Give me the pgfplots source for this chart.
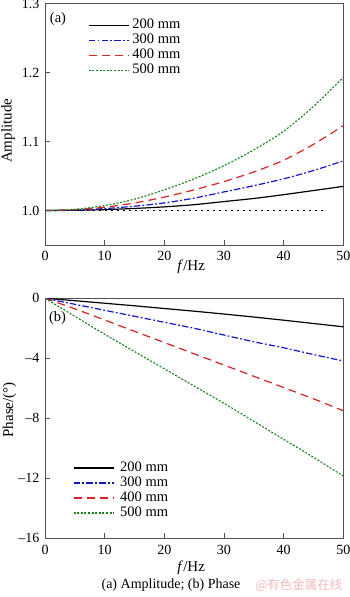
\documentclass[border=0pt]{standalone}
\usepackage{pgfplots}
\pgfplotsset{compat=1.18}
\usepackage{fontspec}
\setmainfont{Liberation Serif}
\newfontfamily\cjk{Noto Sans CJK SC}
\definecolor{myblue}{RGB}{20,20,200}
\definecolor{myred}{RGB}{215,35,35}
\definecolor{mygreen}{RGB}{25,130,25}
\definecolor{wm}{RGB}{245,185,190}
\definecolor{frame}{RGB}{80,80,80}
\pgfplotsset{
  common/.style={
    scale only axis, width=298.3pt,
    xmin=0, xmax=50, xtick={0,10,20,30,40,50},
    tick pos=left, tick align=inside,
    major tick length=5pt,
    axis line style={frame, line width=0.8pt},
    every tick/.style={frame, line width=0.7pt},
    /pgf/number format/assume math mode=true,
    tick label style={font=\fontsize{14}{16}\selectfont},
    yticklabel style={xshift=-2pt},
    xticklabel style={yshift=-3pt},
    legend cell align=left,
    legend style={draw=none, fill=none, inner sep=0pt, outer sep=0pt, row sep=2pt,
      font=\fontsize{14.5}{16}\selectfont,
      nodes={inner sep=0pt, text height=10pt, text depth=3pt}},
    legend image code/.code={\draw[##1] (0pt,0pt) -- (40pt,0pt);},
  },
  s200/.style={black, line width=1.2pt, solid},
  s300/.style={myblue, line width=1.2pt, dash pattern=on 6.5pt off 2.2pt on 1.8pt off 2.2pt},
  s400/.style={myred, line width=1.2pt, dash pattern=on 8pt off 5pt},
  s500/.style={mygreen, line width=1.1pt, dash pattern=on 2pt off 1.6pt},
}
\begin{document}
\begin{tikzpicture}
\path[use as bounding box] (0,0) rectangle (350pt,597pt);
\begin{axis}[common,
  at={(45pt,352pt)}, anchor=south west, height=241.3pt,
  ymin=0.95, ymax=1.3, ytick={1.0,1.1,1.2,1.3},
  yticklabel style={/pgf/number format/fixed, /pgf/number format/fixed zerofill, /pgf/number format/precision=1},
  xlabel={\textit{f}/Hz}, ylabel={Amplitude},
  every axis x label/.style={at={(axis description cs:0.49,-0.09)}, anchor=center, font=\fontsize{15}{17}\selectfont},
  every axis y label/.style={at={(axis description cs:-0.124,0.473)}, rotate=90, anchor=center, font=\fontsize{15}{17}\selectfont},
  legend style={at={(axis description cs:0.145,0.938)}, anchor=north west, /tikz/every odd column/.append style={column sep=3pt}},
]
\addplot[black, line width=1.8pt, dash pattern=on 1.8pt off 4.2pt, forget plot] coordinates {(0,1.0) (47,1.0)};
\addplot[s200, smooth] coordinates {(0,1.0) (5,1.0003) (10,1.0013) (15,1.003) (20,1.0053) (25,1.0085) (30,1.013) (35,1.0175) (40,1.023) (45,1.029) (50,1.035)};
\addplot[s300, smooth] coordinates {(0,1.0) (5,1.0007) (10,1.0028) (15,1.0063) (20,1.011) (25,1.018) (30,1.027) (35,1.036) (40,1.046) (45,1.058) (50,1.072)};
\addplot[s400, smooth] coordinates {(0,1.0) (5,1.0012) (10,1.0048) (15,1.011) (20,1.0195) (25,1.030) (30,1.042) (35,1.056) (40,1.073) (45,1.096) (50,1.123)};
\addplot[s500, smooth] coordinates {(0,1.0) (5,1.0018) (10,1.0072) (15,1.0165) (20,1.030) (25,1.046) (30,1.065) (35,1.088) (40,1.115) (45,1.151) (50,1.193)};
\legend{200 mm, 300 mm, 400 mm, 500 mm}
\node[font=\fontsize{14.5}{16}\selectfont, anchor=center] at (axis description cs:0.0436,0.937) {(a)};
\end{axis}
\begin{axis}[common,
  at={(45pt,58.7pt)}, anchor=south west, height=240pt,
  ymin=-16, ymax=0, ytick={-16,-12,-8,-4,0}, yticklabels={\textendash16,\textendash12,\textendash8,\textendash4,0},
  xlabel={\textit{f}/Hz}, ylabel={Phase/(°)},
  every axis x label/.style={at={(axis description cs:0.49,-0.124)}, anchor=center, font=\fontsize{15}{17}\selectfont},
  every axis y label/.style={at={(axis description cs:-0.119,0.535)}, rotate=90, anchor=center, font=\fontsize{15}{17}\selectfont},
  legend style={at={(axis description cs:0.094,0.32)}, anchor=north west, /tikz/every odd column/.append style={column sep=6pt}},
]
\addplot[s200, smooth] coordinates {(0,0) (5,-0.16) (10,-0.33) (15,-0.5) (20,-0.68) (25,-0.86) (30,-1.05) (35,-1.25) (40,-1.46) (45,-1.68) (50,-1.9)};
\addplot[s300, smooth] coordinates {(0,0) (5,-0.4) (10,-0.8) (15,-1.2) (20,-1.6) (25,-2.0) (30,-2.45) (35,-2.9) (40,-3.3) (45,-3.75) (50,-4.18)};
\addplot[s400, smooth] coordinates {(0,0) (5,-0.7) (10,-1.45) (15,-2.2) (20,-2.95) (25,-3.7) (30,-4.45) (35,-5.2) (40,-5.95) (45,-6.7) (50,-7.5)};
\addplot[s500, smooth] coordinates {(0,0) (5,-1.2) (10,-2.4) (15,-3.55) (20,-4.7) (25,-5.85) (30,-7.0) (35,-8.2) (40,-9.4) (45,-10.6) (50,-11.85)};
\legend{200 mm, 300 mm, 400 mm, 500 mm}
\node[font=\fontsize{14.5}{16}\selectfont, anchor=center] at (axis description cs:0.0419,0.918) {(b)};
\end{axis}
\node[font=\fontsize{14}{16}\selectfont] at (171pt,12pt) {(a) Amplitude; (b) Phase};
\node[font=\fontsize{12.5}{14}\cjk, text=wm] at (299pt,12pt) {@有色金属在线};
\end{tikzpicture}
\end{document}
